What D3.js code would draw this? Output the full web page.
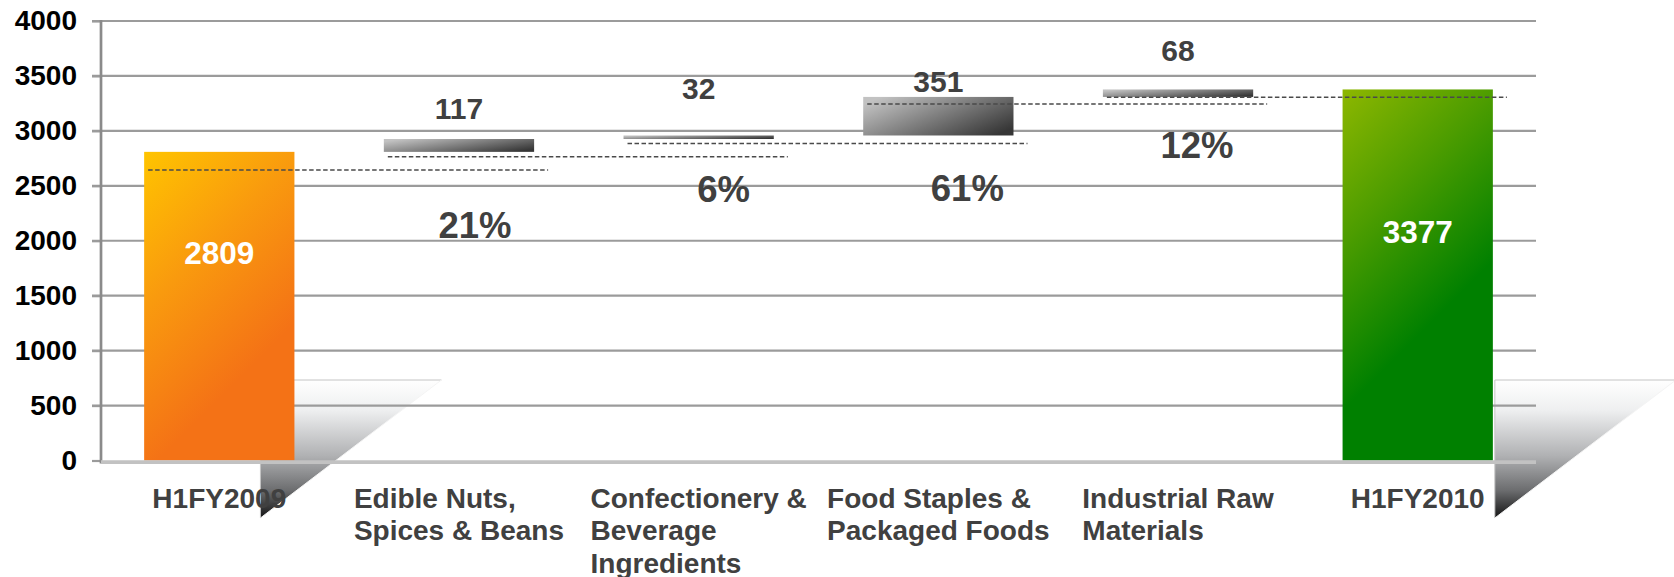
<!DOCTYPE html>
<html>
<head>
<meta charset="utf-8">
<script src="https://cdn.jsdelivr.net/npm/d3@7"></script>
<style>
  html, body { margin: 0; padding: 0; background: #ffffff; }
  svg { display: block; font-family: "Liberation Sans", Arial, sans-serif; font-weight: bold; }
</style>
</head>
<body>
<svg id="chart" width="1674" height="577"></svg>
<script>
// ---- data ----
const categories = [
  "H1FY2009",
  "Edible Nuts, Spices & Beans",
  "Confectionery & Beverage Ingredients",
  "Food Staples & Packaged Foods",
  "Industrial Raw Materials",
  "H1FY2010"
];
const categoryLines = [
  ["H1FY2009"],
  ["Edible Nuts,", "Spices & Beans"],
  ["Confectionery &", "Beverage", "Ingredients"],
  ["Food Staples &", "Packaged Foods"],
  ["Industrial Raw", "Materials"],
  ["H1FY2010"]
];
const startTotal = 2809;
const endTotal = 3377;
const increments = [117, 32, 351, 68];
const shareLabels = ["21%", "6%", "61%", "12%"];
const connectorLevels = [2645, 2765, 2885, 3245, 3305];
const yTickValues = [0, 500, 1000, 1500, 2000, 2500, 3000, 3500, 4000];

// ---- layout ----
const W = 1674, H = 577;
const axisX = 101, plotRight = 1536, tickLeft = 92;
const labelFirstBaseline = 507.5, labelLineStep = 32.5;
const incLabelDy = [-20, -36.5, -5, -28.5];      // value label baseline relative to step top
const shareDx = [16, 25, 29, 19];                // share label offset from band centre
const shareDy = [86, 62.5, 65.5, 61];            // share label baseline below step bottom
const totalLabelDy = [112, 154];                 // total label baseline below bar top
const triTop = 380, triBottom = 518, triWidth = 181;

const svg = d3.select("#chart");
const defs = svg.append("defs");

const y = d3.scaleLinear().domain([0, 4000]).range([460.5, 21]);
const x = d3.scaleBand().domain(categories).range([axisX, plotRight])
  .paddingInner(0.373).paddingOuter(0.18);
const bw = x.bandwidth();

// cumulative steps
const bases = [];
let run = startTotal;
increments.forEach(v => { bases.push(run); run += v; });

const steps = categories.map((c, i) => {
  if (i === 0) return { cat: c, lo: 0, hi: startTotal, kind: "start" };
  if (i === categories.length - 1) return { cat: c, lo: 0, hi: endTotal, kind: "end" };
  return { cat: c, lo: bases[i - 1], hi: bases[i - 1] + increments[i - 1], kind: "delta", k: i - 1 };
});

// ---- gradients ----
const triGrad = defs.append("linearGradient").attr("id", "triGrad")
  .attr("x1", 0).attr("y1", 0).attr("x2", 0).attr("y2", 1);
[[0, "#ffffff"], [0.22, "#eeeff0"], [0.55, "#b0b1b3"], [0.8, "#6c6d6f"], [1, "#141414"]]
  .forEach(([o, c]) => triGrad.append("stop").attr("offset", o).attr("stop-color", c));

const deltaGrad = defs.append("linearGradient").attr("id", "deltaGrad")
  .attr("x1", 0).attr("y1", 0.2).attr("x2", 1).attr("y2", 0.8);
[[0, "#c2c2c2"], [1, "#363636"]]
  .forEach(([o, c]) => deltaGrad.append("stop").attr("offset", o).attr("stop-color", c));

function totalGradient(id, stops, s) {
  const x0 = x(s.cat), y0 = y(s.hi);
  const g = defs.append("linearGradient").attr("id", id)
    .attr("gradientUnits", "userSpaceOnUse")
    .attr("x1", x0).attr("y1", y0).attr("x2", x0 + 175).attr("y2", y0 + 175);
  stops.forEach(([o, c]) => g.append("stop").attr("offset", o).attr("stop-color", c));
}
totalGradient("startGrad", [[0, "#ffc400"], [0.45, "#f99a0e"], [0.92, "#f47216"], [1, "#f47216"]], steps[0]);
totalGradient("endGrad", [[0, "#8db700"], [0.45, "#4b9c00"], [0.92, "#008000"], [1, "#008000"]], steps[steps.length - 1]);

// ---- decorative folded corners beside the totals ----
const triStarts = [x(categories[0]) + bw - 34, x(categories[categories.length - 1]) + bw + 2];
triStarts.forEach(tx => {
  svg.append("path")
    .attr("d", `M${tx},${triTop} L${tx + triWidth},${triTop} L${tx},${triBottom} Z`)
    .attr("fill", "url(#triGrad)");
  svg.append("path")
    .attr("d", `M${tx},${triBottom} L${tx},${triTop} L${tx + triWidth},${triTop}`)
    .attr("fill", "none").attr("stroke", "#c4c4c4").attr("stroke-width", 1);
  svg.append("line")
    .attr("x1", tx + triWidth).attr("y1", triTop).attr("x2", tx).attr("y2", triBottom)
    .attr("stroke", "#f4f4f4").attr("stroke-width", 1);
});

// ---- grid ----
const grid = svg.append("g");
grid.selectAll("line.grid").data(yTickValues.filter(v => v > 0)).join("line")
  .attr("class", "grid")
  .attr("x1", tickLeft).attr("x2", plotRight)
  .attr("y1", d => y(d)).attr("y2", d => y(d))
  .attr("stroke", "#9b9b9b").attr("stroke-width", 2.2);

// y axis with ticks and labels
const yAxis = d3.axisLeft(y).tickValues(yTickValues).tickSize(axisX - tickLeft).tickPadding(15)
  .tickFormat(d3.format("d"));
const ag = svg.append("g").attr("transform", `translate(${axisX},0)`).call(yAxis);
ag.select(".domain").remove();
ag.selectAll(".tick line").attr("stroke", "#9b9b9b").attr("stroke-width", 2.2);
ag.selectAll(".tick text")
  .attr("fill", "#000").attr("font-size", 28).attr("font-weight", "bold")
  .attr("font-family", "'Liberation Sans', Arial, sans-serif");

svg.append("line")
  .attr("x1", axisX).attr("x2", axisX).attr("y1", y(4000) - 1).attr("y2", y(0) + 3)
  .attr("stroke", "#8a8a8a").attr("stroke-width", 2.7);

// ---- bars ----
svg.selectAll("rect.bar").data(steps).join("rect")
  .attr("class", "bar")
  .attr("x", d => x(d.cat))
  .attr("y", d => y(d.hi))
  .attr("width", bw)
  .attr("height", d => y(d.lo) - y(d.hi))
  .attr("fill", d => d.kind === "start" ? "url(#startGrad)" : d.kind === "end" ? "url(#endGrad)" : "url(#deltaGrad)");

// baseline
svg.append("line")
  .attr("x1", axisX).attr("x2", plotRight).attr("y1", y(0) + 1.6).attr("y2", y(0) + 1.6)
  .attr("stroke", "#c2c2c2").attr("stroke-width", 3.6);

// ---- dashed connectors ----
svg.selectAll("line.conn").data(connectorLevels).join("line")
  .attr("class", "conn")
  .attr("x1", (d, i) => x(categories[i]) + 4)
  .attr("x2", (d, i) => x(categories[i + 1]) + bw + 14)
  .attr("y1", d => y(d)).attr("y2", d => y(d))
  .attr("stroke", "#4a4a4a").attr("stroke-width", 1.5)
  .attr("stroke-dasharray", "4.5,2.5");

// ---- labels ----
const deltas = steps.filter(d => d.kind === "delta");
svg.selectAll("text.inc").data(deltas).join("text")
  .attr("class", "inc")
  .attr("x", d => x(d.cat) + bw / 2)
  .attr("y", d => y(d.hi) + incLabelDy[d.k])
  .attr("text-anchor", "middle").attr("font-size", 30).attr("fill", "#404040")
  .text(d => increments[d.k]);

svg.selectAll("text.share").data(deltas).join("text")
  .attr("class", "share")
  .attr("x", d => x(d.cat) + bw / 2 + shareDx[d.k])
  .attr("y", d => y(d.lo) + shareDy[d.k])
  .attr("text-anchor", "middle").attr("font-size", 36.5).attr("fill", "#404040")
  .text(d => shareLabels[d.k]);

const totalsSteps = [steps[0], steps[steps.length - 1]];
svg.selectAll("text.total").data(totalsSteps).join("text")
  .attr("class", "total")
  .attr("x", d => x(d.cat) + bw / 2)
  .attr("y", (d, i) => y(d.hi) + totalLabelDy[i])
  .attr("text-anchor", "middle").attr("font-size", 31.5).attr("fill", "#ffffff")
  .text(d => d.hi);

// category labels: left-aligned lines, block centred under each band
categories.forEach((c, i) => {
  const g = svg.append("g");
  const texts = categoryLines[i].map((line, j) =>
    g.append("text")
      .attr("y", labelFirstBaseline + j * labelLineStep)
      .attr("font-size", 28).attr("fill", "#404040")
      .text(line));
  const maxW = d3.max(texts, t => t.node().getComputedTextLength());
  const left = x(c) + bw / 2 - maxW / 2;
  texts.forEach(t => t.attr("x", left));
});
</script>
</body>
</html>
